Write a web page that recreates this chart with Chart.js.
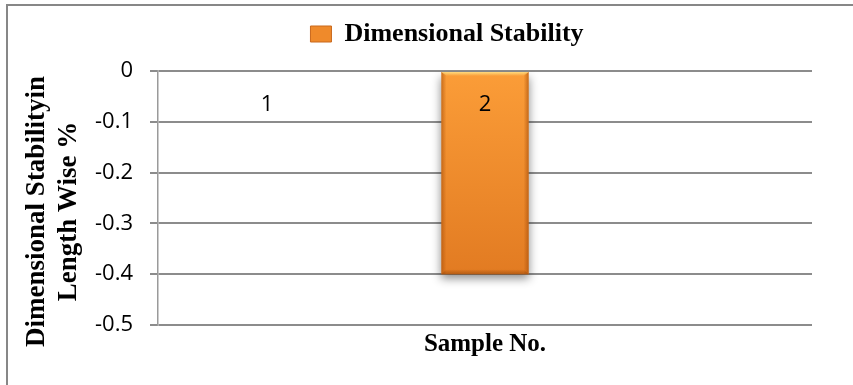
<!DOCTYPE html>
<html>
<head>
<meta charset="utf-8">
<script src="https://cdn.jsdelivr.net/npm/chart.js@4/dist/chart.umd.min.js"></script>
<style>
  html, body { margin: 0; padding: 0; background: #fff; }
  canvas { display: block; }
</style>
</head>
<body>
<canvas id="chart" width="853" height="385"></canvas>
<script>
// Sample numbers on the category axis and the measured change per sample (%)
const sampleLabels = ['1', '2', ''];
const stabilityValues = [0, -0.4, null];
const yTickValues = [0, -0.1, -0.2, -0.3, -0.4, -0.5];
const seriesName = 'Dimensional Stability';
const xAxisTitle = 'Sample No.';
const yAxisTitle = ['Dimensional Stabilityin    ', 'Length Wise %    '];

const SERIF = "'Liberation Serif', 'Times New Roman', serif";
const SANS = "'Open Sans', 'Liberation Sans', sans-serif";

// Orange fill running from the zero line down to the bottom of the plot
function orangeFill(context) {
  const chart = context.chart;
  const area = chart.chartArea;
  if (!area) return '#f08a2c';
  const top = chart.scales.y.getPixelForValue(0);
  const g = chart.ctx.createLinearGradient(0, top, 0, area.bottom);
  g.addColorStop(0, '#fb9d38');
  g.addColorStop(0.8, '#e27b22');
  g.addColorStop(1, '#d9731d');
  return g;
}

// Outer frame of the chart object (left and top edges)
const frame = {
  id: 'frame',
  beforeDraw(chart) {
    const ctx = chart.ctx;
    ctx.save();
    ctx.fillStyle = '#ffffff';
    ctx.fillRect(0, 0, chart.width, chart.height);
    ctx.strokeStyle = '#878787';
    ctx.lineWidth = 2;
    ctx.beginPath();
    ctx.moveTo(7, chart.height + 5);
    ctx.lineTo(7, 5);
    ctx.lineTo(chart.width + 5, 5);
    ctx.stroke();
    ctx.restore();
  }
};

// Soft drop shadow and bevelled edges on the bars
const bevel = {
  id: 'bevel',
  beforeDatasetDraw(chart) {
    const ctx = chart.ctx;
    ctx.save();
    ctx.shadowColor = 'rgba(0,0,0,0.45)';
    ctx.shadowBlur = 9;
    ctx.shadowOffsetY = 5;
  },
  afterDatasetDraw(chart, args) {
    const ctx = chart.ctx;
    ctx.restore();
    args.meta.data.forEach(bar => {
      const p = bar.getProps(['x', 'y', 'base', 'width'], true);
      const h = Math.abs(p.base - p.y);
      if (!h || !p.width) return;
      const l = p.x - p.width / 2, r = p.x + p.width / 2;
      const t = Math.min(p.y, p.base), b = Math.max(p.y, p.base);
      const e = 5;
      ctx.save();
      // left edge
      let g = ctx.createLinearGradient(l, 0, l + e, 0);
      g.addColorStop(0, 'rgba(170,80,10,0.6)');
      g.addColorStop(1, 'rgba(170,80,10,0)');
      ctx.fillStyle = g;
      ctx.fillRect(l, t, e, h);
      // right edge
      g = ctx.createLinearGradient(r, 0, r - e, 0);
      g.addColorStop(0, 'rgba(170,80,10,0.65)');
      g.addColorStop(1, 'rgba(170,80,10,0)');
      ctx.fillStyle = g;
      ctx.fillRect(r - e, t, e, h);
      // top highlight
      g = ctx.createLinearGradient(0, t, 0, t + 4);
      g.addColorStop(0, 'rgba(255,222,130,0.95)');
      g.addColorStop(1, 'rgba(255,222,130,0)');
      ctx.fillStyle = g;
      ctx.beginPath();
      ctx.moveTo(l, t); ctx.lineTo(r, t); ctx.lineTo(r - e, t + 4); ctx.lineTo(l + e, t + 4);
      ctx.closePath();
      ctx.fill();
      // bottom shade
      g = ctx.createLinearGradient(0, b, 0, b - e);
      g.addColorStop(0, 'rgba(150,70,10,0.6)');
      g.addColorStop(1, 'rgba(150,70,10,0)');
      ctx.fillStyle = g;
      ctx.beginPath();
      ctx.moveTo(l, b); ctx.lineTo(r, b); ctx.lineTo(r - e, b - e); ctx.lineTo(l + e, b - e);
      ctx.closePath();
      ctx.fill();
      ctx.restore();
    });
  }
};

// Nudge the legend to the right of the canvas centre
const legendShift = {
  id: 'legendShift',
  afterLayout(chart) {
    const lg = chart.legend;
    if (lg) { lg.left += 31; lg.right += 31; }
  }
};

new Chart(document.getElementById('chart'), {
  type: 'bar',
  data: {
    labels: sampleLabels,
    datasets: [{
      label: seriesName,
      data: stabilityValues,
      backgroundColor: orangeFill,
      borderWidth: 0,
      barPercentage: 0.4,
      categoryPercentage: 1
    }]
  },
  options: {
    responsive: false,
    animation: false,
    layout: { padding: { top: -3, left: 20, right: 41, bottom: 25 } },
    plugins: {
      tooltip: { enabled: false },
      legend: {
        position: 'top',
        labels: {
          color: '#000',
          font: { family: SERIF, size: 26, weight: 'bold' },
          boxWidth: 21,
          boxHeight: 16,
          padding: 24,
          generateLabels(chart) {
            const items = Chart.defaults.plugins.legend.labels.generateLabels(chart);
            items.forEach(it => {
              it.fillStyle = '#ef8a2b';
              it.strokeStyle = '#c9691d';
              it.lineWidth = 1;
            });
            return items;
          }
        }
      },
      // empty title box used as a gap between the legend and the plot
      title: {
        display: true,
        text: '',
        weight: 100,
        font: { size: 10, lineHeight: 1 },
        padding: { top: 4, bottom: 0 }
      }
    },
    scales: {
      x: {
        type: 'category',
        position: 'bottom',
        offset: true,
        grid: { display: false, drawTicks: false },
        border: { display: false },
        ticks: { display: false },
        title: {
          display: true,
          text: xAxisTitle,
          color: '#000',
          font: { family: SERIF, size: 25, weight: 'bold' },
          padding: { top: 5, bottom: 0 }
        }
      },
      xl: {
        type: 'category',
        position: { y: 0 },
        offset: true,
        grid: { display: false, drawTicks: false },
        border: { display: false },
        ticks: {
          z: 1,
          color: '#000',
          font: { family: SANS, size: 22 },
          padding: 21,
          maxRotation: 0,
          autoSkip: false
        }
      },
      y: {
        min: -0.5,
        max: 0,
        afterBuildTicks(scale) {
          scale.ticks = yTickValues.map(v => ({ value: v }));
        },
        afterFit(scale) {
          scale.width = 138;
        },
        ticks: {
          color: '#000',
          font: { family: SANS, size: 22 },
          padding: 17,
          callback: v => String(Number(v.toFixed(1)))
        },
        grid: {
          color: '#8c8c8c',
          lineWidth: 2,
          tickLength: 8,
          drawTicks: true
        },
        border: { display: true, color: '#9a9a9a', width: 1.5 },
        title: {
          display: true,
          text: yAxisTitle,
          color: '#000',
          font: { family: SERIF, size: 27, weight: 'bold', lineHeight: 1.18 },
          padding: { top: 1, bottom: 0 }
        }
      }
    }
  },
  plugins: [frame, bevel, legendShift]
});
</script>
</body>
</html>
